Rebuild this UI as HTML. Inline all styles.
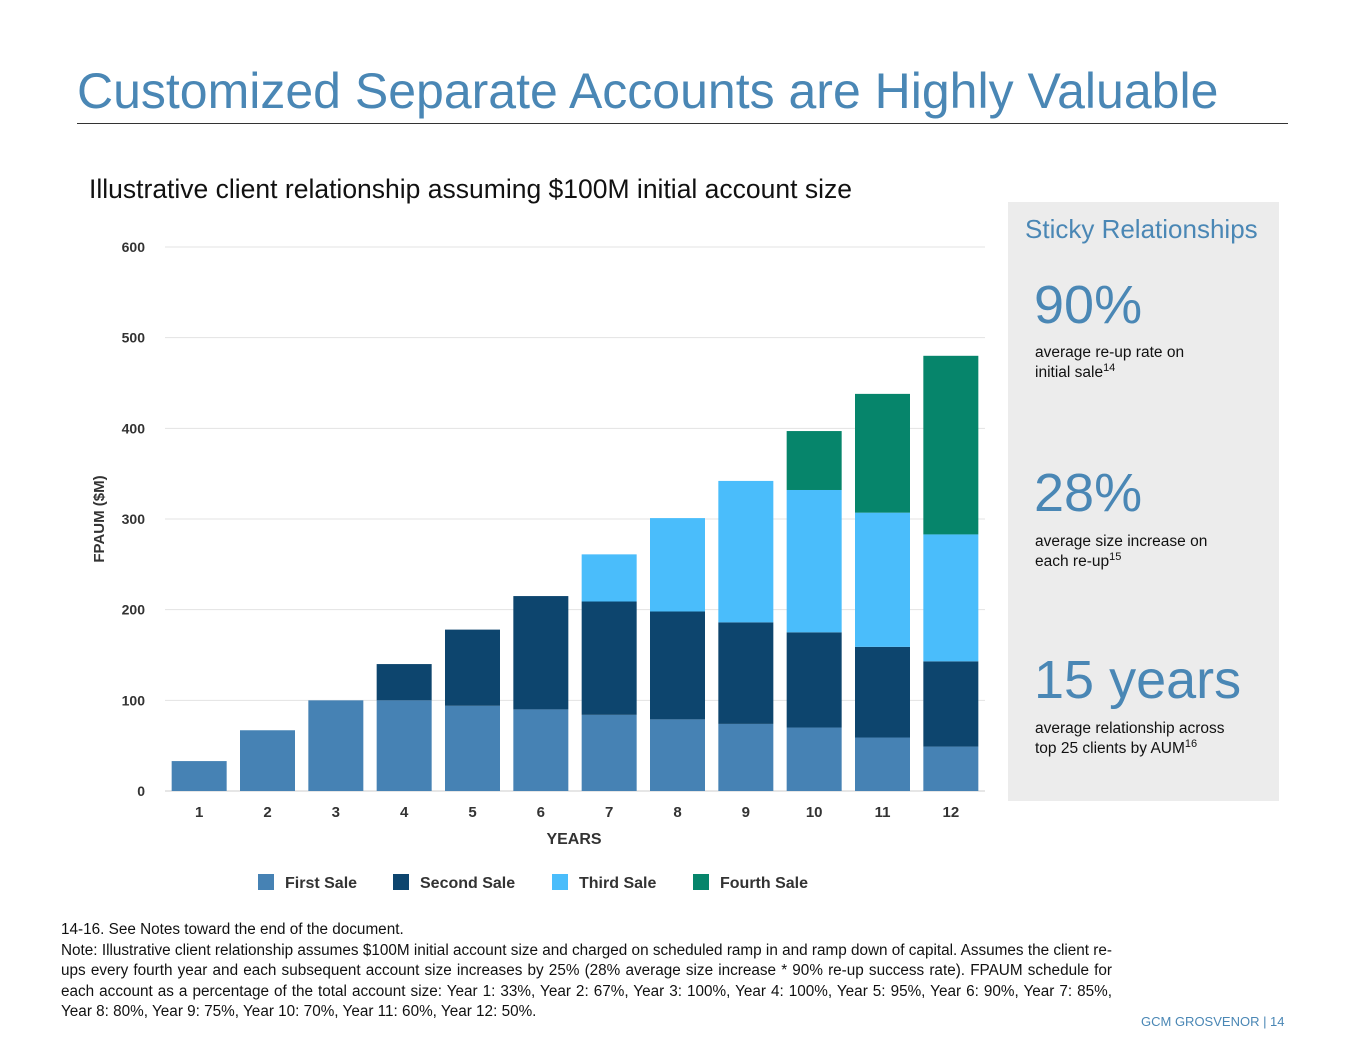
<!DOCTYPE html>
<html><head><meta charset="utf-8"><style>
body{margin:0;width:1365px;height:1055px;background:#fff;position:relative;overflow:hidden;font-family:"Liberation Sans",sans-serif;}
.a{position:absolute;}
.big{color:#4a87b5;font-size:54px;}
.desc{font-size:15.5px;color:#111;line-height:20px;}
sup{font-size:11px;line-height:0;vertical-align:6px;}
.fl{text-align:justify;text-align-last:justify;white-space:nowrap;}
</style></head><body>
<div class="a" style="left:77px;top:62px;font-size:50px;color:#4a87b5;">Customized Separate Accounts are Highly Valuable</div>
<div class="a" style="left:77px;top:123px;width:1211px;height:1px;background:#333;"></div>
<div class="a" style="left:89px;top:174px;font-size:26.5px;color:#111;">Illustrative client relationship assuming $100M initial account size</div>
<div class="a" style="left:1008px;top:202px;width:271px;height:599px;background:#ececec;">
 <div class="a" style="left:17px;top:12px;font-size:26px;color:#4a87b5;">Sticky Relationships</div>
 <div class="a big" style="left:26px;top:72px;">90%</div>
 <div class="a desc" style="left:27px;top:141px;">average re-up rate on<br>initial sale<sup>14</sup></div>
 <div class="a big" style="left:26px;top:260px;">28%</div>
 <div class="a desc" style="left:27px;top:330px;">average size increase on<br>each re-up<sup>15</sup></div>
 <div class="a big" style="left:26px;top:447px;">15 years</div>
 <div class="a desc" style="left:27px;top:517px;">average relationship across<br>top 25 clients by AUM<sup>16</sup></div>
</div>
<svg class="a" style="left:0;top:0" width="1000" height="900" id="chart"></svg>
<div class="a" style="left:61px;top:920px;width:1051px;font-size:15.3px;line-height:20.5px;color:#111;">
<div>14-16. See Notes toward the end of the document.</div>
<div class="fl">Note: Illustrative client relationship assumes $100M initial account size and charged on scheduled ramp in and ramp down of capital. Assumes the client re-</div>
<div class="fl">ups every fourth year and each subsequent account size increases by 25% (28% average size increase * 90% re-up success rate). FPAUM schedule for</div>
<div class="fl">each account as a percentage of the total account size: Year 1: 33%, Year 2: 67%, Year 3: 100%, Year 4: 100%, Year 5: 95%, Year 6: 90%, Year 7: 85%,</div>
<div>Year 8: 80%, Year 9: 75%, Year 10: 70%, Year 11: 60%, Year 12: 50%.</div>
</div>
<div class="a" style="left:1141px;top:1014px;font-size:13px;color:#4a87b5;">GCM GROSVENOR | 14</div>
<script>
const categories=["1","2","3","4","5","6","7","8","9","10","11","12"];
const firstSale=[33,67,100,100,94,90,84,79,74,70,59,49];
const secondSale=[0,0,0,40,84,125,125,119,112,105,100,94];
const thirdSale=[0,0,0,0,0,0,52,103,156,157,148,140];
const fourthSale=[0,0,0,0,0,0,0,0,0,65,131,197];
const yTicks=[0,100,200,300,400,500,600];
const seriesNames=["First Sale","Second Sale","Third Sale","Fourth Sale"];
const colors=["#4682b4","#0d456e","#4abdfb","#06856b"];
const NS="http://www.w3.org/2000/svg";
const svg=document.getElementById('chart');
const x0=165,x1=985,yb=791,yt=247,ymax=600;
const y=v=>yb-(yb-yt)*v/ymax;
const band=(x1-x0)/categories.length;
const bw=55;
function mk(t,a){const e=document.createElementNS(NS,t);for(const k in a)e.setAttribute(k,a[k]);svg.appendChild(e);return e;}
yTicks.forEach(t=>{
 const l=mk('line',{x1:x0,x2:x1,y1:y(t),y2:y(t),stroke:t===0?'#ccc':'#e3e3e3','stroke-width':1});
 
 
 const tx=mk('text',{x:145,y:y(t)+5,'text-anchor':'end','font-size':14,'font-weight':'bold',fill:'#333'});
 tx.textContent=t;
 
 
});
const series=[firstSale,secondSale,thirdSale,fourthSale];
categories.forEach((c,i)=>{
 const cx=x0+band*(i+0.5);
 let acc=0;
 series.forEach((s,k)=>{
  const v=s[i];
  if(v>0){
   const r=mk('rect',{x:cx-bw/2,y:y(acc+v),width:bw,height:y(acc)-y(acc+v),fill:colors[k]});
   
   
  }
  acc+=v;
 });
 const tx=mk('text',{x:cx,y:817,'text-anchor':'middle','font-size':15,'font-weight':'bold',fill:'#333'});
 tx.textContent=c;
 
 
});
const xt=mk('text',{x:574,y:844,'text-anchor':'middle','font-size':16,'font-weight':'bold',fill:'#333'});
xt.textContent='YEARS';


const yt2=mk('text',{x:104,y:519,'text-anchor':'middle','font-size':15,'font-weight':'bold',fill:'#333',transform:'rotate(-90 104 519)'});
yt2.textContent='FPAUM ($M)';


const lx=[258,393,552,693];
seriesNames.forEach((n,k)=>{
 const r=mk('rect',{x:lx[k],y:874,width:16,height:16,fill:colors[k]});
 
 
 const t=mk('text',{x:lx[k]+27,y:888,'font-size':16,'font-weight':'bold',fill:'#333'});
 t.textContent=n;
 
 
});
</script>
</body></html>
